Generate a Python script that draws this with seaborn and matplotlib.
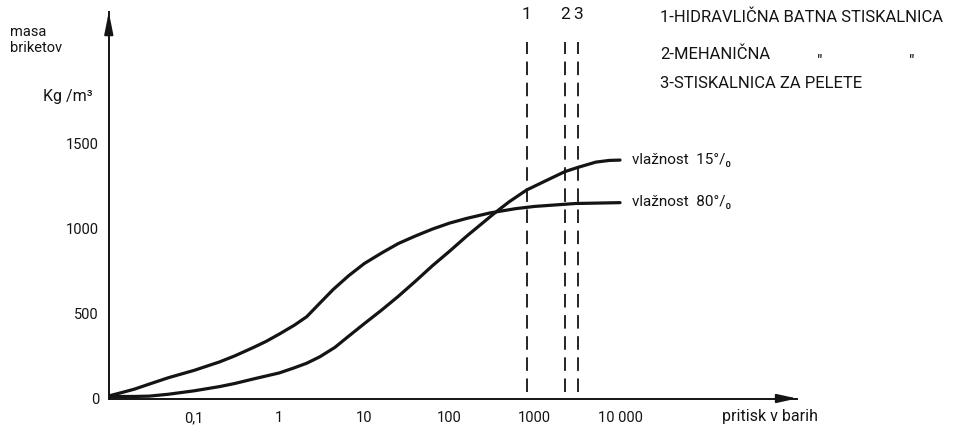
import matplotlib
matplotlib.use("Agg")
import matplotlib.pyplot as plt
import seaborn as sns
import pandas as pd

# ---- data ----
p_15 = [0.01, 0.02, 0.03, 0.05, 0.1, 0.2, 0.3, 0.5, 1, 1.5, 2.1, 3, 4.5, 6.5, 10, 16, 25,
        40, 63, 100, 160, 250, 330, 500, 800, 1300, 2250, 3200, 5200, 7500, 10000]
d_15 = [12, 12, 14, 25, 45, 70, 88, 115, 150, 180, 207, 245, 300, 365, 440, 520, 600,
        690, 780, 865, 955, 1035, 1085, 1155, 1224, 1275, 1332, 1357, 1388, 1398, 1400]
p_80 = [0.01, 0.015, 0.02, 0.03, 0.05, 0.1, 0.2, 0.3, 0.5, 0.7, 1, 1.5, 2.1, 3, 4.3, 6.5,
        10, 16, 25, 40, 63, 100, 160, 300, 600, 1000, 3000, 10000]
d_80 = [15, 38, 55, 85, 122, 165, 215, 250, 300, 335, 378, 430, 480, 560, 640, 720,
        793, 855, 910, 955, 995, 1030, 1058, 1090, 1115, 1128, 1145, 1150]
series_labels = ["vlažnost  15°/₀", "vlažnost  80°/₀"]

press_lines = [800, 2250, 3200]
press_line_labels = ["1", "2", "3"]
press_line_range = [38, 2093]

x_ticks = [0.1, 1, 10, 100, 1000, 10000]
x_tick_labels = ["0,1", "1", "10", "100", "1000", "10 000"]
y_ticks = [0, 500, 1000, 1500]
y_tick_labels = ["0", "500", "1000", "1500"]

legend_lines = ["1-HIDRAVLIČNA BATNA STISKALNICA", "2-MEHANIČNA", "3-STISKALNICA ZA PELETE"]

df = pd.concat([
    pd.DataFrame({"tlak": p_15, "masa": d_15, "serija": "15"}),
    pd.DataFrame({"tlak": p_80, "masa": d_80, "serija": "80"}),
])

# ---- styling ----
sns.set_theme(style="white")
plt.rcParams["font.family"] = ["Roboto", "DejaVu Sans"]
INK = "#141414"
FS = 11.5

W, H = 966, 425
fig = plt.figure(figsize=(W / 100, H / 100), dpi=100)
x0, y0, x1, y1 = 108.8, 398.5, 797, 12
ax = fig.add_axes([x0 / W, (H - y0) / H, (x1 - x0) / W, (y0 - y1) / H])
ax.set_xscale("log")

sns.lineplot(data=df, x="tlak", y="masa", hue="serija", palette={"15": INK, "80": INK},
             estimator=None, sort=False, legend=False, linewidth=2.3, ax=ax,
             solid_joinstyle="round", solid_capstyle="round")

ax.set_xlim(0.01, 10 ** ((x1 - x0) / 85.2 - 2))
ax.set_ylim(0, (y0 - y1) / 0.1703)

ax.vlines(press_lines, press_line_range[0], press_line_range[1], colors=INK,
          linewidth=1.3, linestyles=(0, (7.5, 4.2)))
for xv, lab in zip(press_lines, press_line_labels):
    ax.text(xv, 1.0 - (14.5 - y1) / (y0 - y1), lab, transform=ax.get_xaxis_transform(),
            ha="center", va="center", fontsize=FS + 1, color=INK, clip_on=False)

# axes
for s in ["top", "right"]:
    ax.spines[s].set_visible(False)
for s in ["left", "bottom"]:
    ax.spines[s].set_linewidth(1.4)
    ax.spines[s].set_color(INK)
ax.set_xticks(x_ticks)
ax.set_xticklabels(x_tick_labels)
ax.xaxis.set_minor_locator(matplotlib.ticker.NullLocator())
ax.set_yticks(y_ticks)
ax.set_yticklabels(y_tick_labels)
ax.tick_params(axis="both", direction="out", length=4, width=1.1, color=INK,
               labelsize=FS - 1, labelcolor=INK)
ax.tick_params(axis="x", pad=5)
ax.tick_params(axis="y", pad=3)
ax.set_xlabel("")
ax.set_ylabel("")
ax.grid(False)

# arrow heads
ax.annotate("", xy=(1.0, 0), xytext=(0.97, 0), xycoords="axes fraction",
            arrowprops=dict(arrowstyle="-|>,head_length=1.0,head_width=0.22",
                            color=INK, lw=1.4, shrinkA=0, shrinkB=0))
ax.annotate("", xy=(0, 1.0), xytext=(0, 0.95), xycoords="axes fraction",
            arrowprops=dict(arrowstyle="-|>,head_length=1.1,head_width=0.22",
                            color=INK, lw=1.4, shrinkA=0, shrinkB=0))

def ftext(px, py, s, **kw):
    kw.setdefault("fontsize", FS)
    kw.setdefault("color", INK)
    kw.setdefault("va", "center")
    fig.text(px / W, 1 - py / H, s, **kw)

# axis titles
ftext(10, 32, "masa", fontsize=FS - 1)
ftext(10, 48, "briketov", fontsize=FS - 1)
ftext(43, 96, "Kg /m³", fontsize=FS)
ftext(722, 416, "pritisk v barih", fontsize=FS)

# curve labels
ftext(632, 160, series_labels[0], fontsize=FS - 0.5)
ftext(632, 202, series_labels[1], fontsize=FS - 0.5)

# press legend
ftext(660, 17, legend_lines[0], fontsize=FS + 0.5)
ftext(660, 54, legend_lines[1], fontsize=FS + 0.5)
ftext(820, 61, "\"", fontsize=FS + 1, ha="center")
ftext(912, 61, "\"", fontsize=FS + 1, ha="center")
ftext(660, 84, legend_lines[2], fontsize=FS + 0.5)

fig.savefig("out.png", dpi=100, facecolor="white")
